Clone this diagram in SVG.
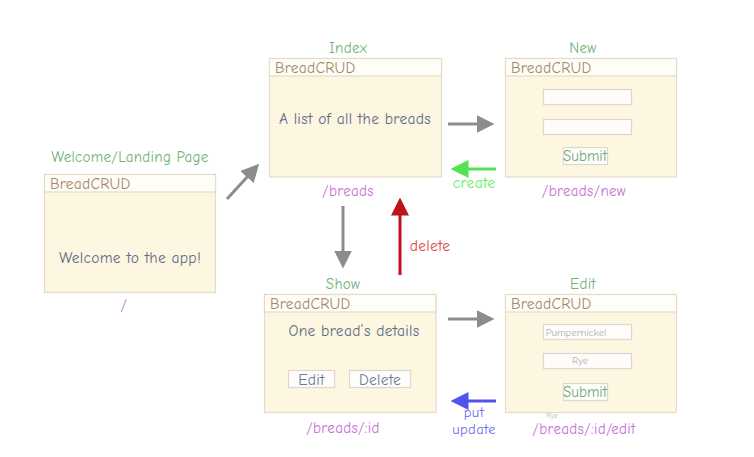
<svg xmlns="http://www.w3.org/2000/svg" width="754" height="457" viewBox="0 0 754 457">
<defs>
<style>
text{font-family:"Comic Neue","DejaVu Sans","Noto Sans",sans-serif;}
.box{fill:#fdf6e1;stroke:#e2dcc8;stroke-width:1.2}
.hdr{fill:#fffdf7;stroke:#e2dcc8;stroke-width:1.2}
.ht{font-size:15.5px;fill:#a4876a;letter-spacing:0.2px}
.title{font-size:15px;fill:#6fb27a;text-anchor:middle;letter-spacing:0.3px}
.route{font-size:15px;fill:#c671d6;text-anchor:middle;letter-spacing:0.3px}
.body{font-size:15.5px;fill:#5f6b85;text-anchor:middle;letter-spacing:0.3px}
.inp{fill:#fffcfa;stroke:#dcd8d0;stroke-width:1.2}
.btn{fill:#fffefb;stroke:#dcd8d0;stroke-width:1.2}
.btnt{font-size:15.5px;fill:#6a79a0;text-anchor:middle;letter-spacing:0.3px}
.sub{font-size:15px;fill:#6fa77a;text-anchor:middle}
.ph{font-size:10.5px;fill:#b0b0b0;text-anchor:middle}
.lbl{font-size:15.5px;text-anchor:middle;letter-spacing:0.3px}
.lbl2{font-size:14.5px;text-anchor:middle;letter-spacing:0.4px}
.gray{stroke:#8c8c8c;stroke-width:3;fill:none}
</style>
<marker id="ag" markerWidth="6" markerHeight="6" refX="0.5" refY="3" orient="auto" markerUnits="strokeWidth"><path d="M0,0 L6,3 L0,6 z" fill="#8c8c8c"/></marker>
<marker id="agr" markerWidth="6" markerHeight="6" refX="0.5" refY="3" orient="auto" markerUnits="strokeWidth"><path d="M0,0 L6,3 L0,6 z" fill="#55e055"/></marker>
<marker id="ab" markerWidth="6" markerHeight="6" refX="0.5" refY="3" orient="auto" markerUnits="strokeWidth"><path d="M0,0 L6,3 L0,6 z" fill="#5252ee"/></marker>
<marker id="ar" markerWidth="6" markerHeight="6" refX="0.5" refY="3" orient="auto" markerUnits="strokeWidth"><path d="M0,0 L6,3 L0,6 z" fill="#c0121a"/></marker>
</defs>
<rect width="754" height="457" fill="#ffffff"/>

<g id="welcome">
<text class="title" x="130" y="162">Welcome/Landing Page</text>
<rect class="box" x="44.5" y="174.5" width="171" height="118"/>
<rect class="hdr" x="44.5" y="174.5" width="171" height="17.5"/>
<text class="ht" x="50" y="189">BreadCRUD</text>
<text class="body" x="130" y="263">Welcome to the app!</text>
<text class="route" x="124" y="310">/</text>
</g>

<g id="index">
<text class="title" x="348" y="53">Index</text>
<rect class="box" x="269.5" y="58.5" width="172" height="118.5"/>
<rect class="hdr" x="269.5" y="58.5" width="172" height="17.5"/>
<text class="ht" x="275" y="73">BreadCRUD</text>
<text class="body" x="355" y="124">A list of all the breads</text>
<text class="route" x="348" y="196">/breads</text>
</g>

<g id="new">
<text class="title" x="583" y="53">New</text>
<rect class="box" x="505.5" y="58.5" width="171" height="118.5"/>
<rect class="hdr" x="505.5" y="58.5" width="171" height="17.5"/>
<text class="ht" x="511" y="73">BreadCRUD</text>
<rect class="inp" x="543.5" y="89.5" width="88" height="15"/>
<rect class="inp" x="543.5" y="119.5" width="88" height="15"/>
<rect class="btn" x="563.5" y="147.5" width="44" height="17"/>
<text class="sub" x="585" y="161">Submit</text>
<text class="route" x="584" y="196">/breads/new</text>
</g>

<g id="show">
<text class="title" x="343" y="289">Show</text>
<rect class="box" x="264.5" y="294.5" width="171.5" height="118"/>
<rect class="hdr" x="264.5" y="294.5" width="171.5" height="17.5"/>
<text class="ht" x="270" y="309">BreadCRUD</text>
<text class="body" x="354" y="336">One bread’s details</text>
<rect class="btn" x="288.5" y="370.5" width="46" height="17"/>
<text class="btnt" x="311.5" y="385">Edit</text>
<rect class="btn" x="349.5" y="370.5" width="61" height="17"/>
<text class="btnt" x="380" y="385">Delete</text>
<text class="route" x="343" y="433">/breads/:id</text>
</g>

<g id="edit">
<text class="title" x="583" y="289">Edit</text>
<rect class="box" x="505.5" y="294.5" width="171" height="118"/>
<rect class="hdr" x="505.5" y="294.5" width="171" height="17.5"/>
<text class="ht" x="511" y="309">BreadCRUD</text>
<rect class="inp" x="543.5" y="324.5" width="88" height="15"/>
<text class="ph" x="576" y="336">Pumpernickel</text>
<rect class="inp" x="543.5" y="353.5" width="88" height="15"/>
<text class="ph" x="580" y="364">Rye</text>
<rect class="btn" x="563.5" y="383.5" width="44" height="17"/>
<text class="sub" x="585" y="397">Submit</text>
<text x="552" y="418" font-size="7.5px" fill="#b0b0b0" text-anchor="middle" opacity="0.8">Rye</text>
<text class="route" x="584" y="434">/breads/:id/edit</text>
</g>

<g id="connectors">
<line class="gray" x1="227" y1="199" x2="248" y2="176" marker-end="url(#ag)"/>
<line class="gray" x1="448" y1="124" x2="478" y2="124" marker-end="url(#ag)"/>
<line x1="496" y1="169" x2="467" y2="169" stroke="#55e055" stroke-width="3" marker-end="url(#agr)"/>
<text class="lbl" x="474" y="188" fill="#66ee66">create</text>
<line class="gray" x1="343" y1="206" x2="343" y2="252" marker-end="url(#ag)"/>
<line x1="400" y1="275" x2="400" y2="214" stroke="#c0121a" stroke-width="3" marker-end="url(#ar)"/>
<text class="lbl" x="430" y="251" fill="#d84848">delete</text>
<line class="gray" x1="448" y1="319" x2="478" y2="319" marker-end="url(#ag)"/>
<line x1="496" y1="401" x2="467" y2="401" stroke="#5252ee" stroke-width="3" marker-end="url(#ab)"/>
<text class="lbl2" x="474" y="417" fill="#6a6af0">put</text>
<text class="lbl2" x="474" y="434" fill="#6a6af0">update</text>
</g>
</svg>
